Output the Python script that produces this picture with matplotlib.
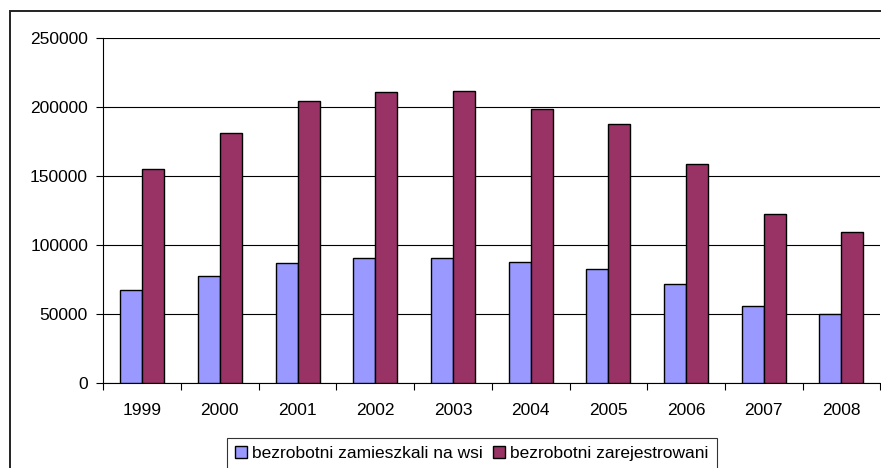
import numpy as np
import matplotlib
matplotlib.use('Agg')
from matplotlib import pyplot as plt
from matplotlib.patches import Rectangle

# data
years = ['1999', '2000', '2001', '2002', '2003', '2004', '2005', '2006', '2007', '2008']
wies = [67900, 77500, 87200, 90800, 90800, 87900, 83100, 72000, 55800, 50200]
zarejestrowani = [155600, 181400, 204900, 211100, 212100, 199000, 187700, 159200, 122700, 109400]
series_names = ['bezrobotni zamieszkali na wsi', 'bezrobotni zarejestrowani']
y_ticks = [0, 50000, 100000, 150000, 200000, 250000]

plt.rcParams['font.family'] = ['Liberation Sans', 'DejaVu Sans']
fs = 12.5

fig = plt.figure(figsize=(8.81, 4.68), dpi=100)
ax = fig.add_axes([103.3 / 881, 84.7 / 468, 777 / 881, 345 / 468])

x = np.arange(len(years))
w = 0.283
ax.bar(x - w / 2, wies, w, color='#9999FF', edgecolor='black', linewidth=1.0,
       label=series_names[0], zorder=3)
ax.bar(x + w / 2, zarejestrowani, w, color='#993366', edgecolor='black', linewidth=1.0,
       label=series_names[1], zorder=3)

ax.set_xlim(-0.5, len(years) - 0.5)
ax.set_ylim(0, 250000)
ax.set_yticks(y_ticks)
ax.set_yticklabels([str(v) for v in y_ticks], fontsize=fs)
ax.yaxis.grid(True, color='black', linewidth=0.8, zorder=0)

# category labels in the middle, ticks between categories
ax.set_xticks(x)
ax.set_xticklabels(years, fontsize=fs)
ax.tick_params(axis='x', which='major', length=0, pad=14)
ax.set_xticks(np.arange(-0.5, len(years) + 0.5, 1), minor=True)
ax.tick_params(axis='x', which='minor', length=5, width=0.8, direction='out')
ax.tick_params(axis='y', length=5, width=0.8, direction='out', pad=6)

for s in ['top', 'right']:
    ax.spines[s].set_visible(False)
ax.spines['left'].set_linewidth(0.8)
ax.spines['bottom'].set_linewidth(0.8)

# outer frame of the chart object (cut off on the right and bottom)
fig.patches.append(Rectangle((10 / 881, -0.2), 1.2, 1.2 - 11 / 468,
                             transform=fig.transFigure, fill=False,
                             edgecolor='#222222', linewidth=1.4))

leg = fig.legend(loc='upper left', bbox_to_anchor=(226.7 / 881, 1 - 438 / 468),
                 ncol=2, fontsize=fs, frameon=True, fancybox=False,
                 edgecolor='black', handlelength=0.7, handleheight=0.7,
                 handletextpad=0.3, columnspacing=0.6, borderpad=0.45,
                 borderaxespad=0)
leg.get_frame().set_linewidth(0.8)

plt.savefig('out.png', dpi=100)
